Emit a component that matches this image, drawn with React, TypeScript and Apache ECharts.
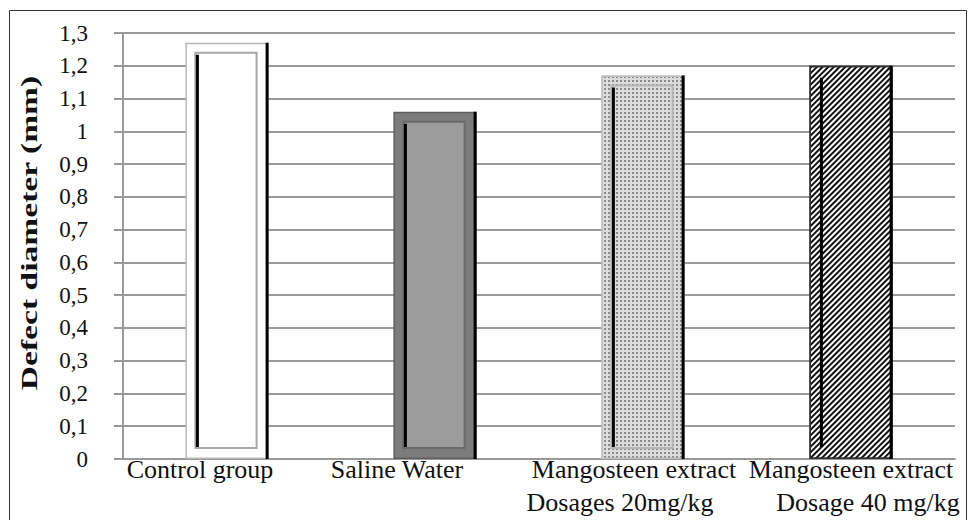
import React, { useEffect, useRef } from "react";
import * as echarts from "echarts";

const categories = [
  "Control group",
  "Saline Water",
  "Mangosteen extract\nDosages 20mg/kg",
  "Mangosteen extract\nDosage 40 mg/kg",
];
const values = [1.27, 1.06, 1.17, 1.2];
const yAxisTitle = "Defect diameter (mm)";

const serif = "Liberation Serif";

// visual styling per bar (not data)
const barLooks = [
  { fill: "#ffffff", border: "#b8b8b8", innerStroke: "#a8a8a8", innerFill: "#ffffff", decal: null as any },
  { fill: "#7c7c7c", border: "#5e5e5e", innerStroke: "#6a6a6a", innerFill: "#9c9c9c", decal: null as any },
  {
    fill: "#dcdcdc",
    border: "#c0c0c0",
    innerStroke: "#b5b5b5",
    innerFill: null,
    decal: { symbol: "rect", symbolSize: 1, dashArrayX: [2, 2], dashArrayY: [2, 2], color: "#8a8a8a" },
  },
  {
    fill: "#ffffff",
    border: "#333333",
    innerStroke: null,
    innerFill: null,
    decal: { symbol: "rect", symbolSize: 1, dashArrayX: [1, 0], dashArrayY: [2, 1.8], rotation: -Math.PI / 4, color: "#111111" },
  },
];

const lbl = (pad: number[]) => ({ fontFamily: serif, fontSize: 26, color: "#111", padding: pad, lineHeight: 33 });
const labelRich: Record<string, any> = {
  c0: lbl([0, 54, 0, 0]),
  c1: lbl([0, 76, 0, 0]),
  c2a: lbl([0, 18, 0, 0]),
  c2b: lbl([0, 46, 0, 0]),
  c3a: lbl([0, 0, 0, 0]),
  c3b: lbl([0, 0, 0, 34]),
};
const labelKeys = [["c0"], ["c1"], ["c2a", "c2b"], ["c3a", "c3b"]];

export default function App() {
  const ref = useRef<HTMLDivElement>(null);
  useEffect(() => {
    if (!ref.current) return;
    const chart = echarts.init(ref.current, null, { renderer: "svg" });
    const option: any = {
      animation: false,
      backgroundColor: "#ffffff",
      grid: { left: 123, top: 33, right: 14, bottom: 61 },
      graphic: [
        {
          type: "rect",
          shape: { x: 9.5, y: 10.5, width: 957, height: 520 },
          style: { fill: "none", stroke: "#333", lineWidth: 1 },
          z: 0,
        },
        {
          type: "text",
          x: 29,
          y: 233,
          rotation: Math.PI / 2,
          scaleX: 1.4,
          style: {
            text: yAxisTitle,
            fontFamily: serif,
            fontWeight: "bold",
            fontSize: 24,
            fill: "#111",
            textAlign: "center",
            textVerticalAlign: "middle",
          },
        },
      ],
      xAxis: {
        type: "category",
        data: categories,
        axisLine: { show: true, lineStyle: { color: "#999", width: 2 } },
        axisTick: { show: false },
        axisLabel: {
          interval: 0,
          margin: -6,
          hideOverlap: false,
          formatter: (val: string, idx: number) => {
            const lines = val.split("\n");
            return lines.map((l, k) => `{${labelKeys[idx][k]}|${l}}`).join("\n");
          },
          rich: labelRich,
        },
      },
      yAxis: {
        type: "value",
        min: 0,
        max: 1.3,
        interval: 0.1,
        axisLine: { show: true, lineStyle: { color: "#999", width: 2 } },
        axisTick: { show: true, length: 9, lineStyle: { color: "#999", width: 2 } },
        splitLine: { show: true, lineStyle: { color: "#999", width: 2 } },
        axisLabel: {
          margin: 35,
          fontFamily: serif,
          fontSize: 23,
          color: "#111",
          formatter: (v: number) => String(Math.round(v * 10) / 10).replace(".", ","),
        },
      },
      series: [
        {
          type: "bar",
          barWidth: "40%",
          z: 2,
          data: values.map((v, i) => ({
            value: v,
            itemStyle: {
              color: barLooks[i].fill,
              borderColor: barLooks[i].border,
              borderWidth: 1.5,
              decal: barLooks[i].decal || undefined,
            },
          })),
        },
        {
          type: "custom",
          z: 3,
          data: values.map((v, i) => [i, v]),
          renderItem: (params: any, api: any) => {
            const i = api.value(0);
            const v = api.value(1);
            const top = api.coord([i, v]);
            const bot = api.coord([i, 0]);
            const w = api.size([1, 0])[0] * 0.4;
            const x0 = top[0] - w / 2;
            const x1 = x0 + w;
            const y0 = top[1];
            const y1 = bot[1];
            const look = barLooks[i];
            const children: any[] = [];
            if (look.innerFill || look.innerStroke) {
              children.push({
                type: "rect",
                shape: { x: x0 + 10, y: y0 + 10, width: w - 22, height: y1 - y0 - 21 },
                style: {
                  fill: look.innerFill || "none",
                  stroke: look.innerStroke || "none",
                  lineWidth: 2,
                },
              });
            }
            children.push({
              type: "line",
              shape: { x1: x0 + 12, y1: y0 + 12, x2: x0 + 12, y2: y1 - 12 },
              style: { stroke: "#000", lineWidth: 3 },
            });
            children.push({
              type: "line",
              shape: { x1: x1 - 1.5, y1: y0, x2: x1 - 1.5, y2: y1 },
              style: { stroke: "#000", lineWidth: 3 },
            });
            return { type: "group", children };
          },
        },
      ],
    };
    chart.setOption(option);
    return () => chart.dispose();
  }, []);
  return (
    <div
      ref={ref}
      style={{ position: "fixed", left: 0, top: 0, width: 969, height: 520, background: "#fff" }}
    />
  );
}
